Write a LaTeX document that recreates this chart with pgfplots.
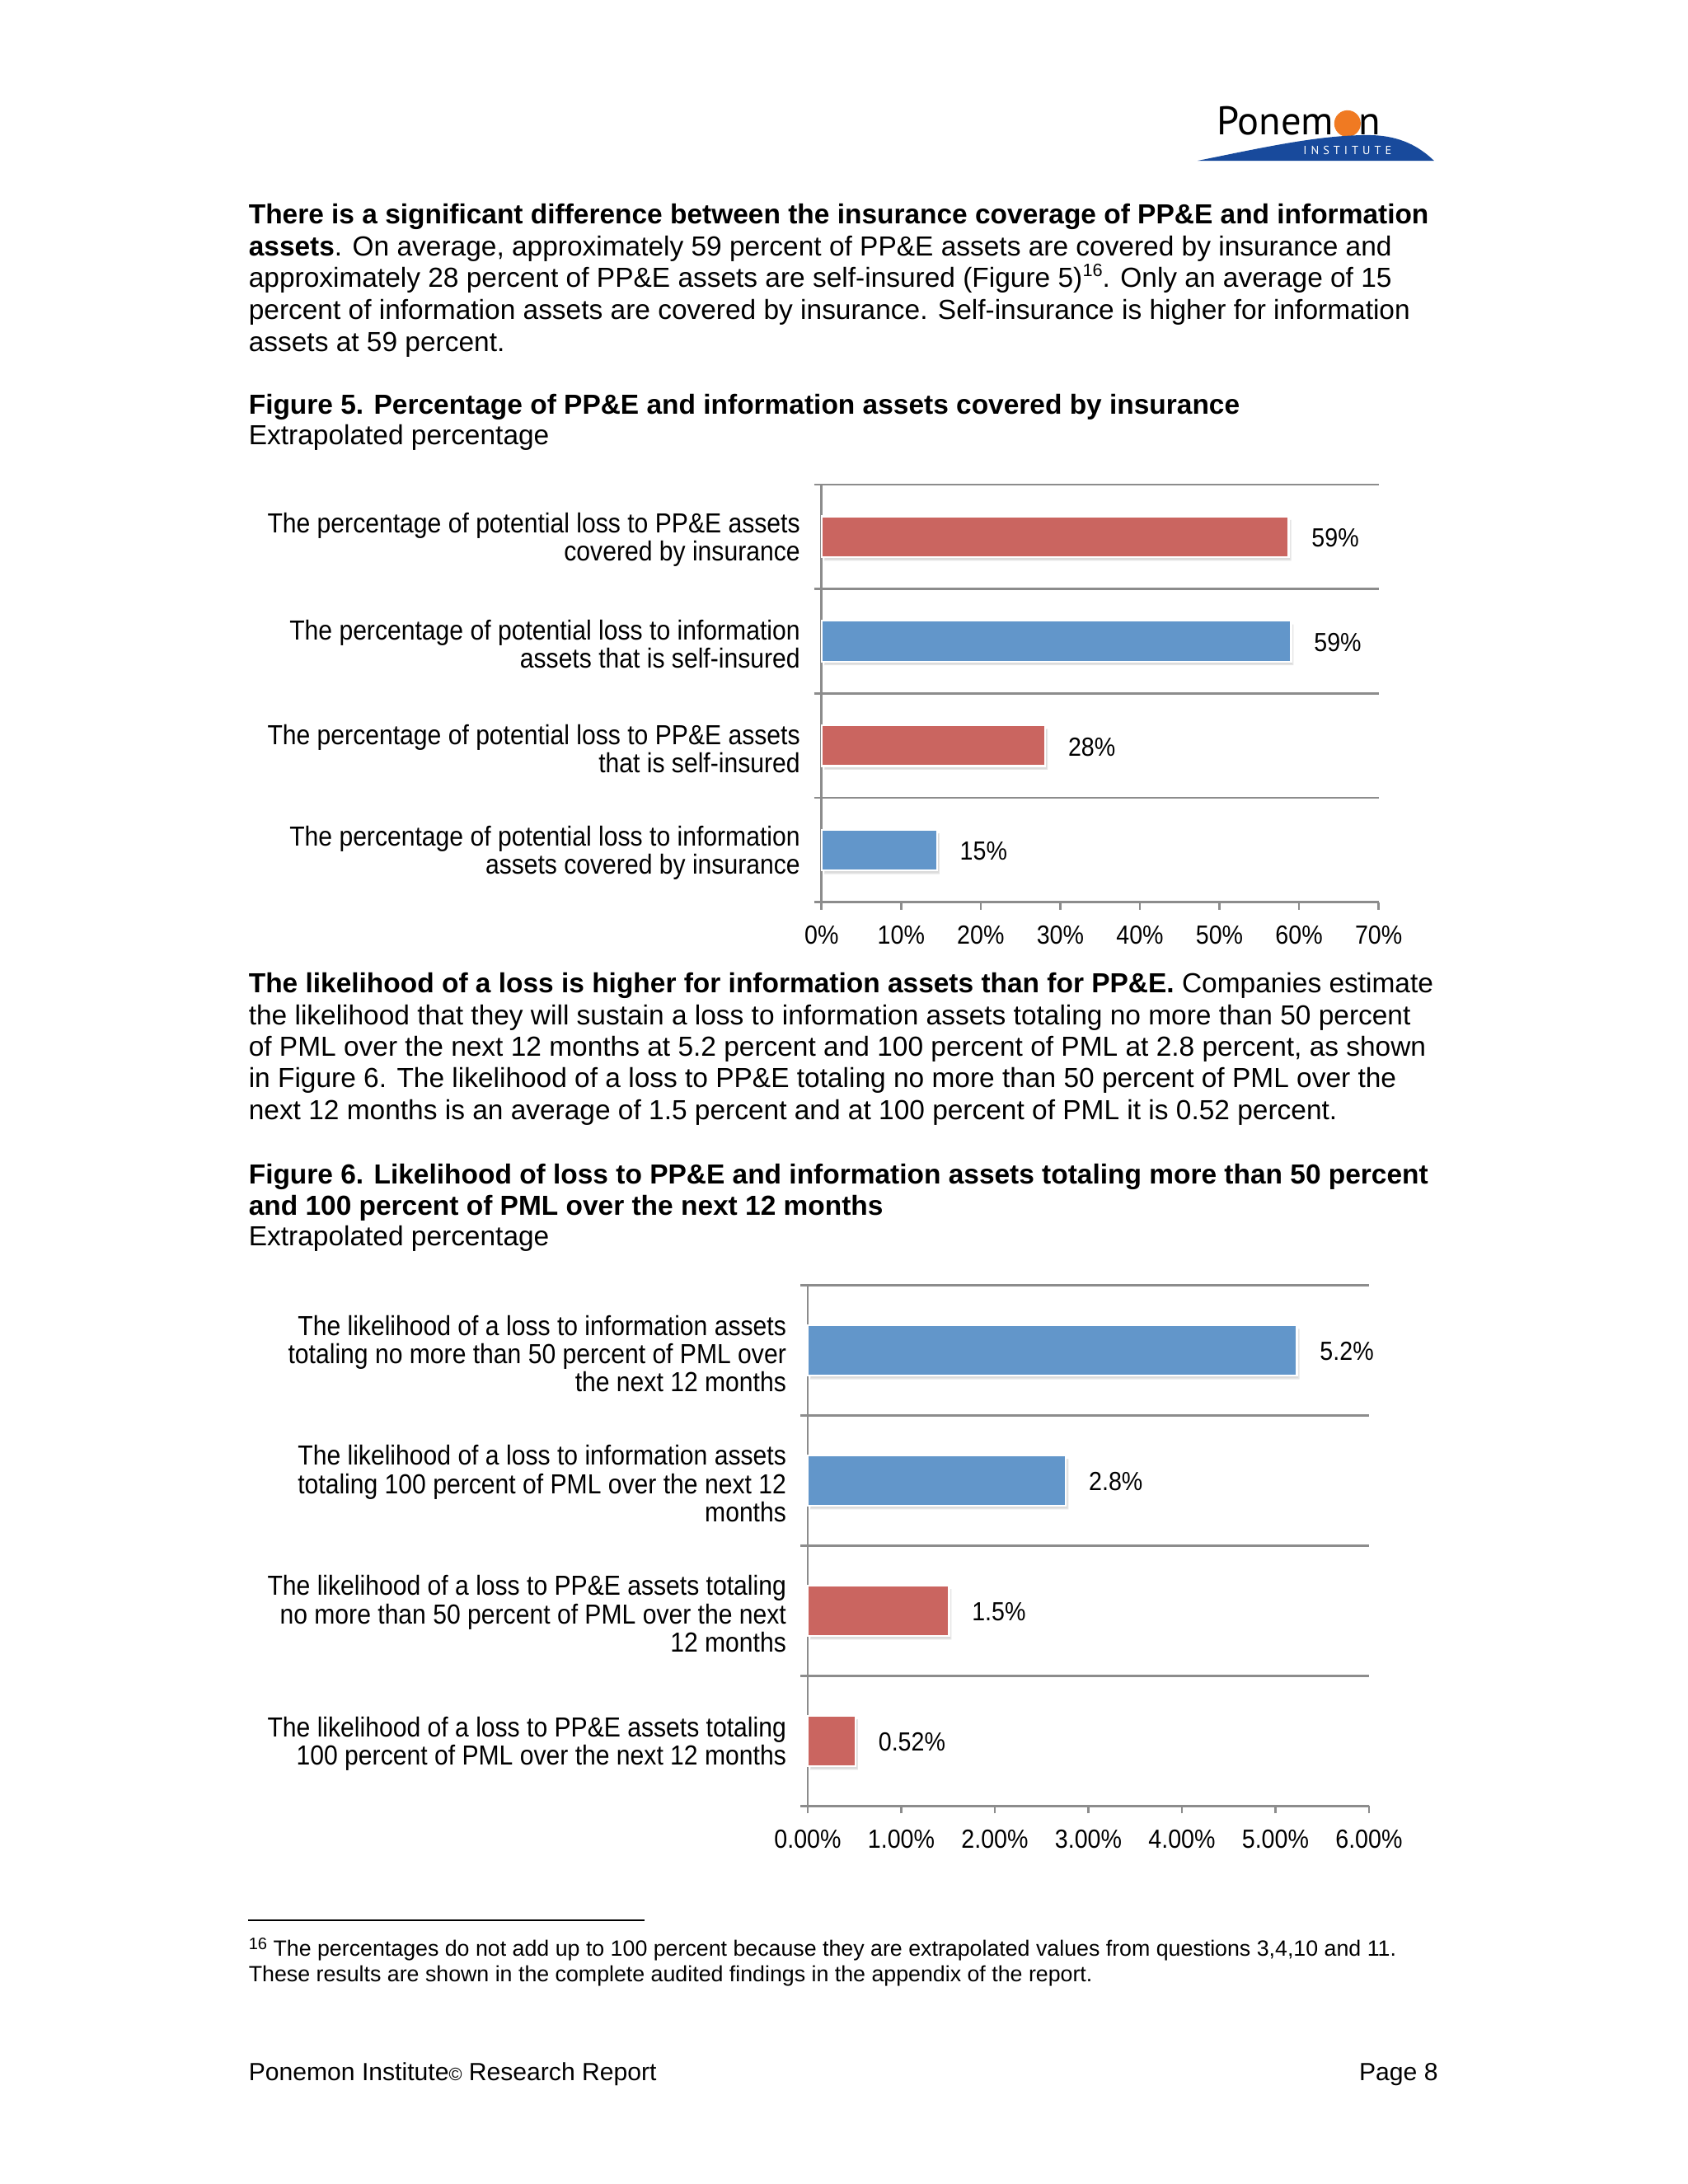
\documentclass[border=0pt]{standalone}
\usepackage{fontspec}
\setmainfont{Liberation Sans}
\newfontfamily\chartfont[FakeStretch=0.9]{Liberation Sans}
\newfontfamily\logofont{PT Sans}
\usepackage{pgfplots}
\pgfplotsset{compat=1.18}
\usetikzlibrary{shadows}
\definecolor{barred}{RGB}{202,101,96}
\definecolor{barblue}{RGB}{98,150,202}
\definecolor{axgray}{RGB}{140,140,140}
\definecolor{ponblue}{RGB}{24,74,156}
\definecolor{ponorange}{RGB}{240,122,34}

\pgfplotsset{
  mybar/.style={
    xbar, scale only axis, y dir=reverse,
    bar shift=0pt,
    ymin=-0.5, ymax=3.5,
    ytick={0,1,2,3},
    minor ytick={-0.5,0.5,1.5,2.5,3.5},
    yminorgrids=true,
    minor grid style={draw=axgray, line width=0.8pt},
    axis x line*=bottom, axis y line*=left,
    axis line style={draw=axgray, line width=0.8pt, -},
    tick align=outside,
    major tick length=2.7pt, minor tick length=2.7pt,
    tick style={draw=axgray, line width=0.8pt},
    major y tick style={draw=none},
    yticklabel style={font=\chartfont\fontsize{10}{10.2}\selectfont, align=right, inner sep=0pt, xshift=-4.9pt, yshift=-1.1pt},
    xticklabel style={font=\chartfont\fontsize{9.5}{11}\selectfont, yshift=-2.3pt},
    /pgf/number format/assume math mode=true,
    point meta=explicit symbolic,
    nodes near coords,
    nodes near coords style={font=\chartfont\fontsize{9.5}{11}\selectfont, anchor=west, inner sep=0pt, xshift=8pt, yshift=-0.4pt},
    every axis plot/.append style={draw=white, line width=0.7pt,
      drop shadow={shadow xshift=0.9pt, shadow yshift=-1.3pt, opacity=0.28}},
    clip=false,
  }
}

\begin{document}
\begin{tikzpicture}
\fill[white] (0,0) rectangle (612pt,-792pt);
\path[use as bounding box] (0,0) rectangle (612pt,-792pt);

\begin{scope}[x=1pt,y=-1pt]
% logo
\fill[ponorange] (488.6,44.8) circle (4.8);
\node[anchor=base west, inner sep=0pt, font=\logofont\fontsize{14.5}{15}\selectfont] at (441.0,48.8) {Ponem};
\node[anchor=base east, inner sep=0pt, font=\logofont\fontsize{14.5}{15}\selectfont] at (500.8,48.8) {n};
\fill[ponblue] (434.2,58.3) .. controls (458,53.5) and (478,49.0) .. (496,49.0)
   .. controls (508,49.0) and (515,53.5) .. (520,58.3) -- cycle;
\node[inner sep=0pt, text=white, font=\logofont\fontsize{4.3}{5}\selectfont] at (488.6,54.4)
   {\makebox[31.9pt][s]{I\hfill N\hfill S\hfill T\hfill I\hfill T\hfill U\hfill T\hfill E}};

% paragraph 1
\begin{scope}[every node/.style={anchor=base west, inner sep=0pt, font=\fontsize{10}{11.5}\selectfont}]
\node at (90,81.1) {\textbf{There is a significant difference between the insurance coverage of PP\&E and information}};
\node at (90,92.7) {\textbf{assets}. On average, approximately 59 percent of PP\&E assets are covered by insurance and};
\node at (90,104.3) {approximately 28 percent of PP\&E assets are self-insured (Figure 5){\fontsize{6.5}{7}\selectfont\raisebox{4pt}{16}}. Only an average of 15};
\node at (90,115.9) {percent of information assets are covered by insurance. Self-insurance is higher for information};
\node at (90,127.5) {assets at 59 percent.};
\node at (90,150.2) {\textbf{Figure 5. Percentage of PP\&E and information assets covered by insurance}};
\node at (90,161.3) {Extrapolated percentage};
% paragraph 2
\node at (90,360.1) {\textbf{The likelihood of a loss is higher for information assets than for PP\&E.} Companies estimate};
\node at (90,371.55) {the likelihood that they will sustain a loss to information assets totaling no more than 50 percent};
\node at (90,383.0) {of PML over the next 12 months at 5.2 percent and 100 percent of PML at 2.8 percent, as shown};
\node at (90,394.45) {in Figure 6. The likelihood of a loss to PP\&E totaling no more than 50 percent of PML over the};
\node at (90,405.9) {next 12 months is an average of 1.5 percent and at 100 percent of PML it is 0.52 percent.};
\node at (90,429.3) {\textbf{Figure 6. Likelihood of loss to PP\&E and information assets totaling more than 50 percent}};
\node at (90,440.8) {\textbf{and 100 percent of PML over the next 12 months}};
\node at (90,451.7) {Extrapolated percentage};
\end{scope}

% footnote
\draw[line width=0.6pt] (90,696.3) -- (233.7,696.3);
\begin{scope}[every node/.style={anchor=base west, inner sep=0pt, font=\fontsize{8}{9.2}\selectfont}]
\node at (90,709.5) {{\fontsize{6}{6}\selectfont\raisebox{2.6pt}{16}} The percentages do not add up to 100 percent because they are extrapolated values from questions 3,4,10 and 11.};
\node at (90,718.7) {These results are shown in the complete audited findings in the appendix of the report.};
\end{scope}
% footer
\node[anchor=base west, inner sep=0pt, font=\fontsize{9}{10}\selectfont] at (90,754.5) {Ponemon Institute{\fontsize{6.5}{7}\selectfont\textcopyright} Research Report};
\node[anchor=base east, inner sep=0pt, font=\fontsize{9}{10}\selectfont] at (521.6,754.5) {Page 8};
\end{scope}

% Figure 5
\begin{axis}[mybar,
  at={(297.9pt,-327.2pt)}, anchor=south west,
  width=202pt, height=151.5pt,
  xmin=0, xmax=70, xtick={0,10,...,70},
  xticklabel={\pgfmathprintnumber{\tick}\%},
  bar width=14.8pt,
  yticklabels={{The percentage of potential loss to PP\&E assets\\covered by insurance},
               {The percentage of potential loss to information\\assets that is self-insured},
               {The percentage of potential loss to PP\&E assets\\that is self-insured},
               {The percentage of potential loss to information\\assets covered by insurance}},
]
\addplot[fill=barred] coordinates {(58.7,0) [59\%] (28.1,2) [28\%]};
\addplot[fill=barblue] coordinates {(59.0,1) [59\%] (14.5,3) [15\%]};
\end{axis}

% Figure 6
\begin{axis}[mybar,
  at={(292.9pt,-654.9pt)}, anchor=south west,
  width=203.5pt, height=188.8pt,
  xmin=0, xmax=6, xtick={0,1,...,6},
  xticklabel={\pgfmathprintnumber[fixed,fixed zerofill,precision=2]{\tick}\%},
  bar width=18.3pt,
  yticklabels={{The likelihood of a loss to information assets\\totaling no more than 50 percent of PML over\\the next 12 months},
               {The likelihood of a loss to information assets\\totaling 100 percent of PML over the next 12\\months},
               {The likelihood of a loss to PP\&E assets totaling\\no more than 50 percent of PML over the next\\12 months},
               {The likelihood of a loss to PP\&E assets totaling\\100 percent of PML over the next 12 months}},
]
\addplot[fill=barblue] coordinates {(5.23,0) [5.2\%] (2.76,1) [2.8\%]};
\addplot[fill=barred] coordinates {(1.51,2) [1.5\%] (0.51,3) [0.52\%]};
\end{axis}
\end{tikzpicture}
\end{document}
